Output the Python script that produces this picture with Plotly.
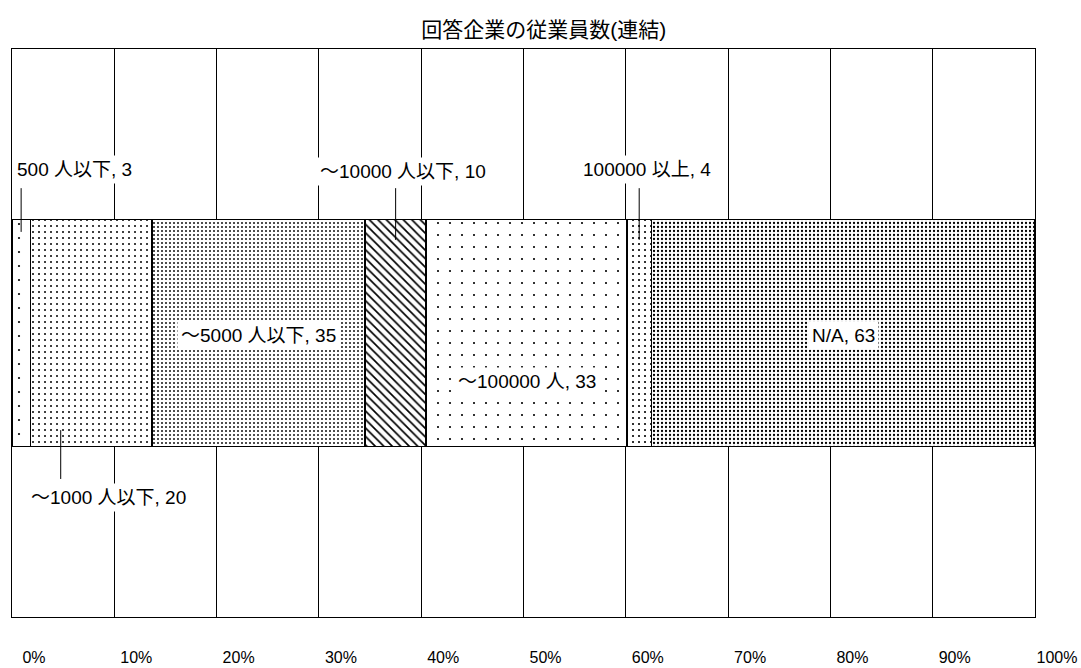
import plotly.graph_objects as go

# Respondent companies by consolidated employee count
categories = ["500 人以下", "～1000 人以下", "～5000 人以下", "～10000 人以下",
              "～100000 人", "100000 以上", "N/A"]
counts = [3, 20, 35, 10, 33, 4, 63]
tick_labels = ["0%", "10%", "20%", "30%", "40%", "50%", "60%", "70%", "80%", "90%", "100%"]

# pattern per segment: (shape, tile size, solidity)
patterns = [
    (".", 14, 0.02),
    (".", 6, 0.09),
    (".", 4, 0.17),
    ("\\", 6, 0.28),
    (".", 12, 0.025),
    (".", 6, 0.10),
    (".", 4, 0.25),
]

# label placement: inside segment (None) or outside with a leader line
# (label x in %, label y in paper, leader x fraction within segment, leader y0, y1 in paper)
label_pos = [
    (6.1, 0.787, 0.5, 0.755, 0.678),
    (9.45, 0.211, 0.25, 0.329, 0.243),
    None,
    (38.2, 0.785, 0.5, 0.755, 0.664),
    None,
    (62.1, 0.787, 0.5, 0.755, 0.664),
    None,
]
inside_y = [None, None, 0.496, None, 0.415, None, 0.496]

FONT = "Liberation Sans, Arial, Noto Sans CJK JP, sans-serif"

total = sum(counts)
pcts = [c / total * 100 for c in counts]

fig = go.Figure()
for name, pct, (shape, size, sol) in zip(categories, pcts, patterns):
    fig.add_trace(go.Bar(
        y=[""], x=[pct], orientation="h", name=name,
        marker=dict(
            color="white",
            line=dict(color="black", width=1.5),
            pattern=dict(shape=shape, size=size, solidity=sol,
                         fgcolor="black", bgcolor="white", fillmode="replace"),
        ),
        hoverinfo="skip",
    ))

label_font = dict(size=19, color="black", family=FONT)
start = 0.0
for i, (name, pct, cnt) in enumerate(zip(categories, pcts, counts)):
    center = start + pct / 2
    text = f"{name}, {cnt}"
    lp = label_pos[i]
    if lp is None:
        lx, ly = center, inside_y[i]
    else:
        lx, ly, fx, y0, y1 = lp
        leader_x = start + pct * fx
        fig.add_shape(type="line", xref="x", yref="paper",
                      x0=leader_x, x1=leader_x, y0=y0, y1=y1,
                      line=dict(color="black", width=1))
    fig.add_annotation(x=lx, y=ly, xref="x", yref="paper",
                       xanchor="center", yanchor="middle",
                       text=text, showarrow=False, bgcolor="white",
                       borderpad=3, font=label_font)
    start += pct

fig.update_layout(
    width=1081, height=668,
    margin=dict(l=12, r=46, t=49, b=51),
    barmode="stack", bargap=0.6,
    showlegend=False,
    plot_bgcolor="white", paper_bgcolor="white",
    title=dict(text="回答企業の従業員数(連結)", x=0.503, xanchor="center", y=0.955,
               yanchor="middle",
               font=dict(size=21, color="black", family=FONT)),
    font=dict(family=FONT, color="black"),
)
fig.update_xaxes(
    range=[0, 100], tickvals=list(range(0, 101, 10)), ticktext=tick_labels,
    showgrid=True, gridcolor="black", gridwidth=1,
    showline=True, linecolor="black", linewidth=1, mirror=True,
    zeroline=False, ticks="", ticklabelshift=22, ticklabelstandoff=26,
    tickfont=dict(size=16, color="black", family=FONT),
    automargin=False, fixedrange=True,
)
fig.update_yaxes(
    range=[-0.5, 0.5], showticklabels=False, showgrid=False,
    showline=True, linecolor="black", linewidth=1, mirror=True,
    zeroline=False, ticks="", automargin=False, fixedrange=True,
)

fig.write_html("out.html")
